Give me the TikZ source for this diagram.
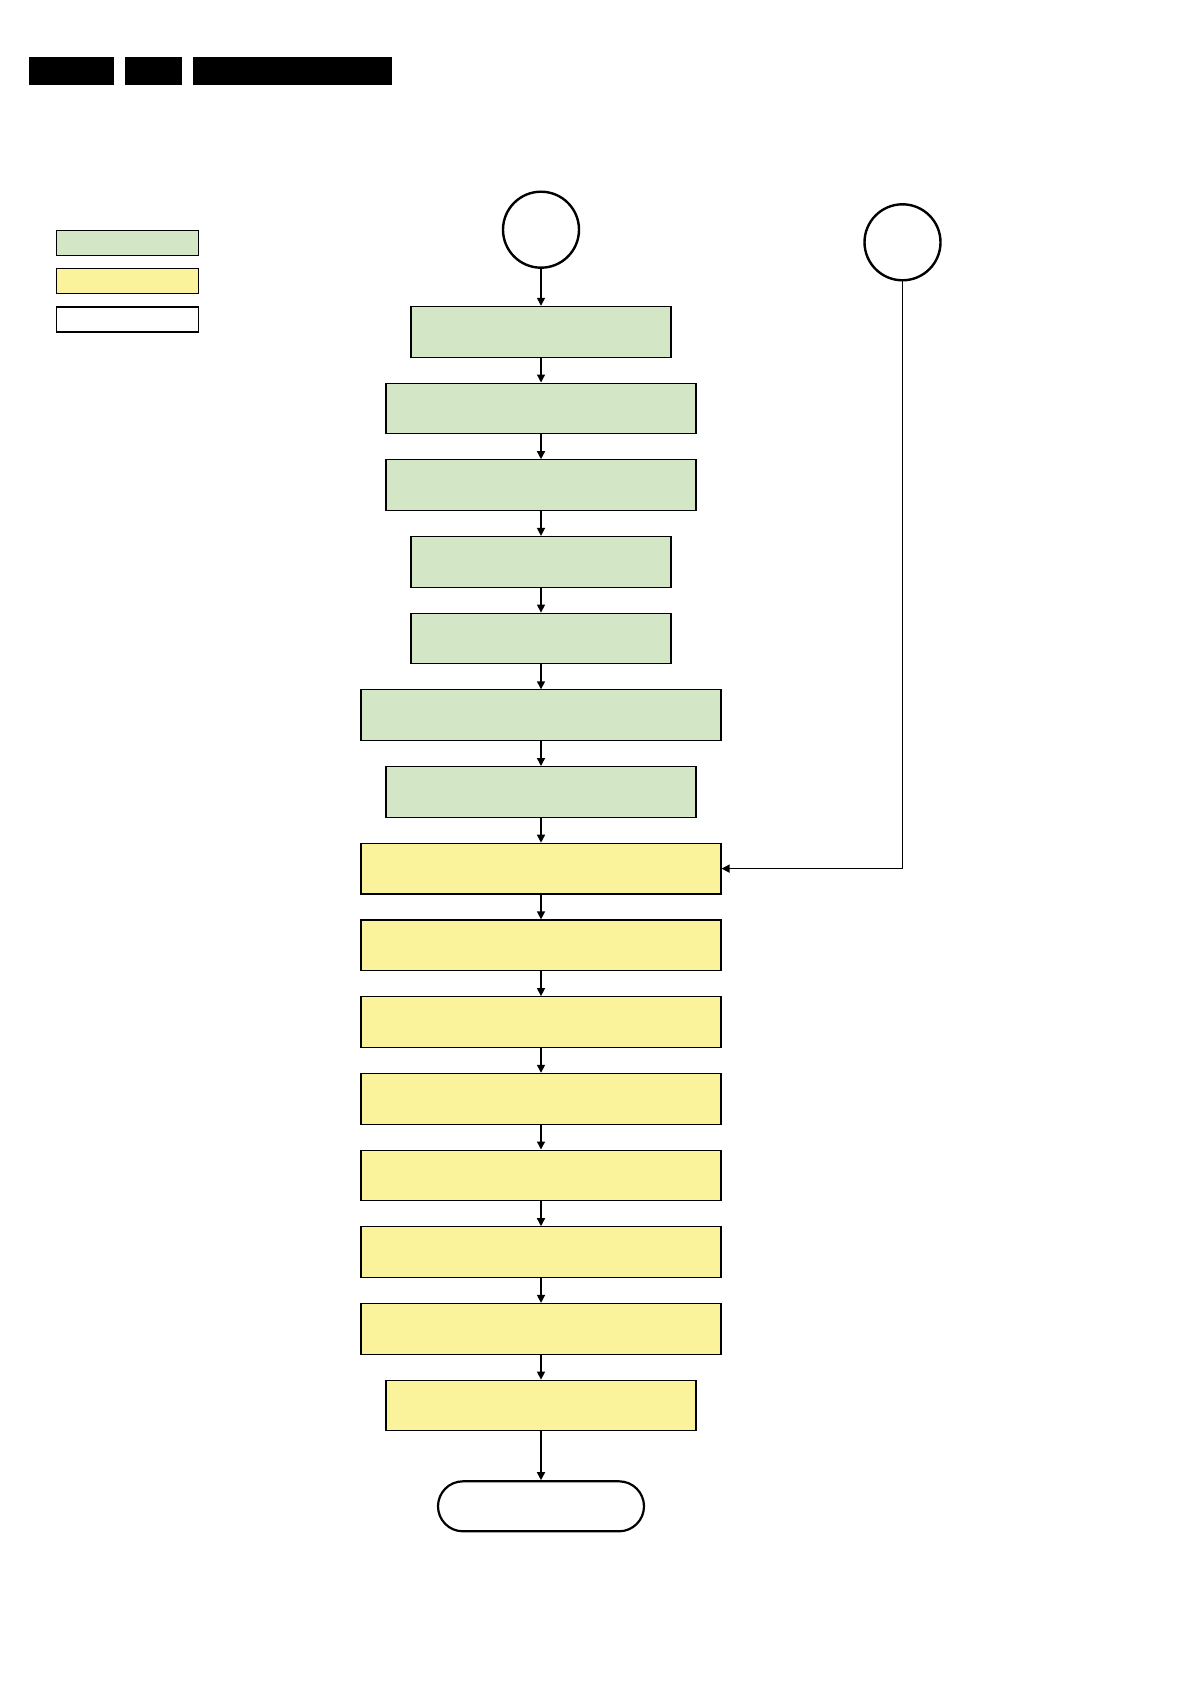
\documentclass[tikz,border=0pt]{standalone}
\usepackage{tikz}
\usepackage{xcolor}
\usetikzlibrary{arrows.meta, positioning}

\definecolor{stepgreen}{RGB}{211,231,199}
\definecolor{stepyellow}{RGB}{250,243,155}

\begin{document}
\begin{tikzpicture}[x=1pt, y=-1pt, >={Triangle[length=8pt,width=8pt]},
    bar/.style={fill=black, inner sep=0pt, minimum height=28pt},
    key/.style={draw, line width=1.2pt, inner sep=0pt, minimum width=142pt, minimum height=25pt},
    greenbox/.style={draw, line width=1.1pt, fill=stepgreen, inner sep=0pt, minimum height=50.7pt},
    yellowbox/.style={draw, line width=1.1pt, fill=stepyellow, inner sep=0pt, minimum height=50.7pt},
    connector/.style={draw, circle, line width=2.4pt, inner sep=0pt, minimum size=76pt},
    terminal/.style={draw, line width=2.2pt, rounded corners=25pt, inner sep=0pt, minimum width=206pt, minimum height=50pt},
    flow/.style={->, line width=1.4pt}]
    \useasboundingbox (0,0) rectangle (1192,1685);

    \node[bar, minimum width=85pt] (h1) at (71.5, 71) {};
    \node[bar, minimum width=57pt] (h2) at (153.5, 71) {};
    \node[bar, minimum width=199pt] (h3) at (292.5, 71) {};

    \node[key, fill=stepgreen] (kg) at (127.3, 243) {};
    \node[key, fill=stepyellow] (ky) at (127.3, 281.3) {};
    \node[key] (kw) at (127.3, 319.5) {};

    \node[connector] (start) at (541, 229.7) {};
    \node[connector] (entry) at (902.5, 242.3) {};

    \node[greenbox, minimum width=260pt] (s1) at (541, 331.7) {};
    \node[greenbox, minimum width=310pt] (s2) at (541, 408.4) {};
    \node[greenbox, minimum width=310pt] (s3) at (541, 485.1) {};
    \node[greenbox, minimum width=260pt] (s4) at (541, 561.8) {};
    \node[greenbox, minimum width=260pt] (s5) at (541, 638.5) {};
    \node[greenbox, minimum width=360pt] (s6) at (541, 715.2) {};
    \node[greenbox, minimum width=310pt] (s7) at (541, 791.9) {};
    \node[yellowbox, minimum width=360pt] (s8) at (541, 868.6) {};
    \node[yellowbox, minimum width=360pt] (s9) at (541, 945.3) {};
    \node[yellowbox, minimum width=360pt] (s10) at (541, 1022.0) {};
    \node[yellowbox, minimum width=360pt] (s11) at (541, 1098.7) {};
    \node[yellowbox, minimum width=360pt] (s12) at (541, 1175.4) {};
    \node[yellowbox, minimum width=360pt] (s13) at (541, 1252.1) {};
    \node[yellowbox, minimum width=360pt] (s14) at (541, 1328.8) {};
    \node[yellowbox, minimum width=310pt] (s15) at (541, 1405.5) {};

    \node[terminal] (stop) at (541, 1506.3) {};

    \draw[flow] (start) -- (s1);
    \draw[flow] (s1) -- (s2);
    \draw[flow] (s2) -- (s3);
    \draw[flow] (s3) -- (s4);
    \draw[flow] (s4) -- (s5);
    \draw[flow] (s5) -- (s6);
    \draw[flow] (s6) -- (s7);
    \draw[flow] (s7) -- (s8);
    \draw[flow] (s8) -- (s9);
    \draw[flow] (s9) -- (s10);
    \draw[flow] (s10) -- (s11);
    \draw[flow] (s11) -- (s12);
    \draw[flow] (s12) -- (s13);
    \draw[flow] (s13) -- (s14);
    \draw[flow] (s14) -- (s15);
    \draw[flow] (s15) -- (stop);
    \draw[flow] (entry) |- (s8);
\end{tikzpicture}
\end{document}
